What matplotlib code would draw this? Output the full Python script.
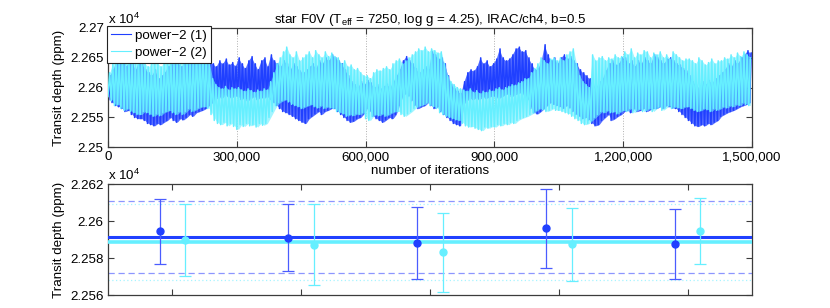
import numpy as np
import matplotlib
matplotlib.use('Agg')
import matplotlib.pyplot as plt
from matplotlib.ticker import FuncFormatter, FixedLocator

plt.rcParams['font.family'] = ['Liberation Sans', 'DejaVu Sans']
plt.rcParams['mathtext.fontset'] = 'custom'
plt.rcParams['mathtext.rm'] = 'Liberation Sans'
plt.rcParams['mathtext.it'] = 'Liberation Sans:italic'

# ---------------- data (ppm) ----------------
n_iter = 1500000
title = 'star F0V (T$_{\\rm eff}$ = 7250, log g = 4.25), IRAC/ch4, b=0.5'
labels = ['power\u22122 (1)', 'power\u22122 (2)']

# trace envelopes (max / min) read per bin of 7,500 iterations (200 bins)
blue_hi = [
    22620, 22630, 22645, 22640, 22650, 22635, 22645, 22640, 22630, 22645,
    22640, 22630, 22625, 22620, 22630, 22615, 22620, 22625, 22635, 22640,
    22640, 22645, 22635, 22640, 22650, 22640, 22645, 22655, 22650, 22660,
    22650, 22645, 22640, 22635, 22645, 22640, 22648, 22638, 22642, 22636,
    22650, 22640, 22632, 22645, 22652, 22640, 22630, 22645, 22650, 22635,
    22655, 22645, 22640, 22635, 22645, 22640, 22630, 22640, 22635, 22628,
    22625, 22630, 22635, 22640, 22632, 22645, 22640, 22650, 22645, 22655,
    22650, 22645, 22640, 22630, 22620, 22610, 22605, 22600, 22610, 22605,
    22612, 22608, 22600, 22605, 22598, 22602, 22606, 22600, 22610, 22620,
    22630, 22645, 22652, 22645, 22640, 22632, 22625, 22630, 22635, 22630,
    22660, 22655, 22648, 22650, 22640, 22620, 22605, 22598, 22594, 22590,
    22610, 22625, 22630, 22628, 22635, 22650, 22640, 22645, 22635, 22640,
    22648, 22665, 22650, 22645, 22648, 22655, 22665, 22668, 22660, 22662,
    22650, 22640, 22630, 22632, 22645, 22672, 22655, 22645, 22650, 22640,
    22650, 22655, 22648, 22652, 22645, 22640, 22630, 22625, 22620, 22615,
    22605, 22600, 22610, 22615, 22628, 22640, 22645, 22638, 22640, 22650,
    22650, 22640, 22645, 22635, 22645, 22640, 22650, 22645, 22640, 22655,
    22650, 22645, 22640, 22648, 22650, 22645, 22640, 22638, 22632, 22628,
    22620, 22610, 22605, 22600, 22610, 22605, 22612, 22608, 22615, 22620,
    22625, 22630, 22640, 22635, 22645, 22640, 22650, 22655, 22662, 22658]
blue_lo = [
    22580, 22575, 22570, 22568, 22565, 22560, 22562, 22555, 22550, 22548,
    22548, 22545, 22540, 22538, 22536, 22540, 22538, 22542, 22545, 22550,
    22545, 22542, 22548, 22546, 22550, 22555, 22552, 22558, 22560, 22562,
    22565, 22570, 22575, 22580, 22585, 22582, 22588, 22585, 22583, 22586,
    22585, 22580, 22583, 22578, 22582, 22585, 22580, 22584, 22582, 22585,
    22580, 22575, 22570, 22565, 22560, 22558, 22555, 22552, 22548, 22545,
    22542, 22540, 22548, 22552, 22556, 22560, 22555, 22560, 22562, 22565,
    22565, 22560, 22555, 22550, 22545, 22542, 22544, 22548, 22550, 22556,
    22565, 22560, 22552, 22548, 22545, 22542, 22546, 22550, 22548, 22555,
    22570, 22585, 22590, 22586, 22578, 22570, 22565, 22568, 22570, 22575,
    22570, 22565, 22568, 22560, 22555, 22550, 22545, 22540, 22538, 22536,
    22572, 22578, 22582, 22580, 22583, 22580, 22585, 22582, 22584, 22586,
    22585, 22582, 22585, 22588, 22590, 22585, 22588, 22590, 22592, 22588,
    22580, 22565, 22558, 22556, 22560, 22565, 22570, 22575, 22572, 22570,
    22568, 22565, 22570, 22566, 22560, 22555, 22552, 22548, 22550, 22546,
    22540, 22536, 22538, 22545, 22550, 22555, 22545, 22548, 22552, 22555,
    22560, 22562, 22558, 22565, 22560, 22562, 22565, 22560, 22563, 22565,
    22565, 22568, 22565, 22570, 22568, 22566, 22565, 22560, 22555, 22550,
    22545, 22540, 22536, 22535, 22538, 22536, 22540, 22538, 22542, 22545,
    22552, 22555, 22558, 22560, 22562, 22565, 22568, 22570, 22572, 22575]
cyan_hi = [
    22625, 22640, 22650, 22645, 22655, 22640, 22650, 22645, 22640, 22650,
    22645, 22640, 22635, 22640, 22645, 22640, 22635, 22645, 22650, 22655,
    22645, 22650, 22640, 22650, 22655, 22645, 22650, 22660, 22655, 22662,
    22655, 22640, 22615, 22605, 22600, 22598, 22602, 22596, 22600, 22598,
    22600, 22596, 22594, 22598, 22595, 22592, 22596, 22594, 22598, 22596,
    22610, 22625, 22640, 22650, 22660, 22668, 22655, 22650, 22660, 22645,
    22650, 22655, 22660, 22650, 22662, 22655, 22650, 22660, 22652, 22658,
    22652, 22650, 22640, 22645, 22635, 22638, 22630, 22632, 22625, 22620,
    22620, 22615, 22625, 22630, 22628, 22632, 22635, 22630, 22640, 22645,
    22648, 22640, 22645, 22650, 22655, 22660, 22665, 22662, 22668, 22660,
    22665, 22662, 22658, 22660, 22640, 22620, 22610, 22605, 22600, 22598,
    22596, 22594, 22598, 22592, 22595, 22590, 22594, 22592, 22596, 22594,
    22598, 22600, 22596, 22600, 22602, 22605, 22604, 22608, 22610, 22615,
    22615, 22625, 22632, 22640, 22650, 22645, 22640, 22648, 22650, 22645,
    22650, 22645, 22655, 22660, 22665, 22640, 22620, 22610, 22605, 22600,
    22655, 22645, 22650, 22652, 22645, 22650, 22648, 22655, 22650, 22652,
    22660, 22655, 22665, 22650, 22658, 22655, 22662, 22660, 22650, 22658,
    22655, 22660, 22650, 22655, 22648, 22660, 22655, 22650, 22645, 22648,
    22648, 22645, 22640, 22650, 22645, 22638, 22642, 22648, 22640, 22645,
    22645, 22650, 22648, 22655, 22650, 22658, 22652, 22660, 22655, 22650]
cyan_lo = [
    22585, 22578, 22570, 22572, 22565, 22562, 22565, 22560, 22558, 22555,
    22555, 22560, 22558, 22555, 22552, 22556, 22553, 22558, 22560, 22562,
    22558, 22555, 22560, 22555, 22560, 22565, 22560, 22563, 22566, 22568,
    22568, 22565, 22555, 22545, 22540, 22538, 22542, 22536, 22540, 22535,
    22530, 22538, 22535, 22540, 22536, 22538, 22534, 22540, 22537, 22540,
    22550, 22560, 22570, 22575, 22578, 22580, 22576, 22572, 22570, 22568,
    22565, 22568, 22570, 22572, 22568, 22566, 22570, 22565, 22568, 22566,
    22565, 22560, 22558, 22556, 22552, 22555, 22553, 22556, 22555, 22558,
    22548, 22545, 22552, 22555, 22553, 22556, 22552, 22555, 22558, 22560,
    22560, 22555, 22552, 22556, 22560, 22565, 22568, 22570, 22572, 22575,
    22570, 22568, 22565, 22558, 22555, 22552, 22550, 22548, 22546, 22545,
    22540, 22536, 22534, 22535, 22532, 22530, 22528, 22534, 22532, 22535,
    22534, 22538, 22536, 22540, 22538, 22542, 22540, 22545, 22548, 22550,
    22552, 22555, 22558, 22562, 22565, 22563, 22560, 22562, 22565, 22562,
    22562, 22560, 22558, 22556, 22552, 22548, 22545, 22540, 22538, 22540,
    22545, 22550, 22555, 22560, 22558, 22562, 22558, 22560, 22556, 22560,
    22562, 22560, 22565, 22558, 22562, 22564, 22560, 22562, 22565, 22560,
    22565, 22568, 22562, 22566, 22570, 22565, 22568, 22566, 22565, 22568,
    22568, 22565, 22562, 22560, 22562, 22565, 22563, 22560, 22565, 22562,
    22565, 22568, 22566, 22570, 22568, 22572, 22570, 22575, 22572, 22570]

# bottom panel: five chunks, mean and 1-sigma interval per chain
chunks = [1, 2, 3, 4, 5]
blue_mean = [22594.5, 22590.9, 22588.0, 22596.2, 22587.8]
blue_top = [22612.2, 22609.1, 22607.7, 22617.5, 22606.8]
blue_bot = [22576.7, 22572.9, 22568.5, 22574.7, 22568.9]
cyan_mean = [22589.6, 22587.1, 22583.1, 22587.4, 22594.9]
cyan_top = [22609.1, 22609.1, 22604.6, 22607.1, 22612.6]
cyan_bot = [22570.2, 22565.2, 22561.4, 22567.6, 22577.0]
blue_all = 22591.5
blue_band = [22571.8, 22610.9]
cyan_all = 22588.7
cyan_band = [22568.1, 22609.1]

top_yticks = [22500, 22550, 22600, 22650, 22700]
bot_yticks = [22560, 22580, 22600, 22620]
top_xticks = [0, 300000, 600000, 900000, 1200000, 1500000]

# ---------------- style ----------------
BLUE = '#2040ff'
CYAN = '#66efff'
FS = 9.6
FRAME = '#3c3c3c'

fig = plt.figure(figsize=(8.30, 3.08), dpi=100)
ax1 = fig.add_axes([108/830, 1-147.3/308, 644/830, 119.3/308])
ax2 = fig.add_axes([108/830, 1-295/308, 644/830, 110.7/308])

def trace(ax, hi, lo, color, z, phase, fill_alpha):
    nb = len(hi)
    step = n_iter / nb
    idx = np.arange(nb)
    xc = (idx + 0.5) * step
    ax.fill_between(xc, lo, hi, color=color, lw=0, alpha=fill_alpha, zorder=z)
    xz = np.empty(2 * nb)
    yz = np.empty(2 * nb)
    xz[0::2] = (idx + phase) * step
    xz[1::2] = (idx + phase + 0.5) * step
    yz[0::2] = lo
    yz[1::2] = hi
    line, = ax.plot(xz, yz, color=color, lw=1.1, zorder=z + 0.5)
    return line

l1 = trace(ax1, blue_hi, blue_lo, BLUE, 2, 0.25, 0.75)
l2 = trace(ax1, cyan_hi, cyan_lo, CYAN, 3, 0.0, 0.6)

ax1.set_xlim(0, n_iter)
ax1.set_ylim(22500, 22700)
ax1.xaxis.set_major_locator(FixedLocator(top_xticks))
ax1.xaxis.set_major_formatter(FuncFormatter(lambda v, p: f'{int(v):,}'))
ax1.yaxis.set_major_locator(FixedLocator(top_yticks))
ax1.yaxis.set_major_formatter(FuncFormatter(lambda v, p: f'{v/1e4:g}'))
ax1.grid(axis='x', color='#b0b0b0', linestyle=':', lw=0.7)
ax1.set_xlabel('number of iterations', fontsize=FS, labelpad=1)
ax1.set_ylabel('Transit depth (ppm)', fontsize=FS, labelpad=4)
ax1.set_title(title, fontsize=FS, pad=3.5)
leg = ax1.legend([l1, l2], labels, loc='upper left', bbox_to_anchor=(-0.002, 1.02),
                 fontsize=FS, frameon=True, fancybox=False, handlelength=1.5,
                 handletextpad=0.3, labelspacing=0.35, borderpad=0.3,
                 borderaxespad=0)
for h in leg.get_lines():
    h.set_linewidth(0.8)
leg.get_frame().set_edgecolor('#222222')
leg.get_frame().set_linewidth(0.8)
leg.get_frame().set_alpha(1)
leg.set_zorder(10)

# bottom
xb = np.array(chunks, dtype=float)
ax2.axhline(blue_all, color=BLUE, lw=2.2, zorder=3)
ax2.axhline(cyan_all, color=CYAN, lw=2.6, zorder=3)
for v in blue_band:
    ax2.axhline(v, color='#8c96ff', lw=0.9, ls=(0, (5, 3)), zorder=2)
for v in cyan_band:
    ax2.axhline(v, color='#a8f4ff', lw=0.9, ls=(0, (1, 2)), zorder=2)
bm = np.array(blue_mean)
cm = np.array(cyan_mean)
ax2.errorbar(xb - 0.1, bm, yerr=[bm - np.array(blue_bot), np.array(blue_top) - bm],
             fmt='o', color=BLUE, ecolor='#4a5cff', ms=5, capsize=4, elinewidth=0.9,
             capthick=0.9, zorder=5)
ax2.errorbar(xb + 0.1, cm, yerr=[cm - np.array(cyan_bot), np.array(cyan_top) - cm],
             fmt='o', color=CYAN, ecolor=CYAN, ms=5, capsize=4, elinewidth=0.9,
             capthick=0.9, zorder=5)
ax2.set_xlim(0.5, 5.5)
ax2.set_ylim(22560, 22620)
ax2.xaxis.set_major_locator(FixedLocator(chunks))
ax2.set_xticklabels([])
ax2.yaxis.set_major_locator(FixedLocator(bot_yticks))
ax2.yaxis.set_major_formatter(FuncFormatter(lambda v, p: f'{v/1e4:g}'))
ax2.set_ylabel('Transit depth (ppm)', fontsize=FS, labelpad=4)

for ax in (ax1, ax2):
    ax.tick_params(direction='in', top=True, right=True, length=4, width=0.8,
                   color=FRAME, labelsize=FS, pad=3)
    for s in ax.spines.values():
        s.set_color(FRAME)
        s.set_linewidth(0.9)
    ax.text(0.0, 1.01, 'x 10$^{4}$', transform=ax.transAxes, fontsize=FS,
            ha='left', va='bottom')

fig.savefig('out.png', dpi=100)
